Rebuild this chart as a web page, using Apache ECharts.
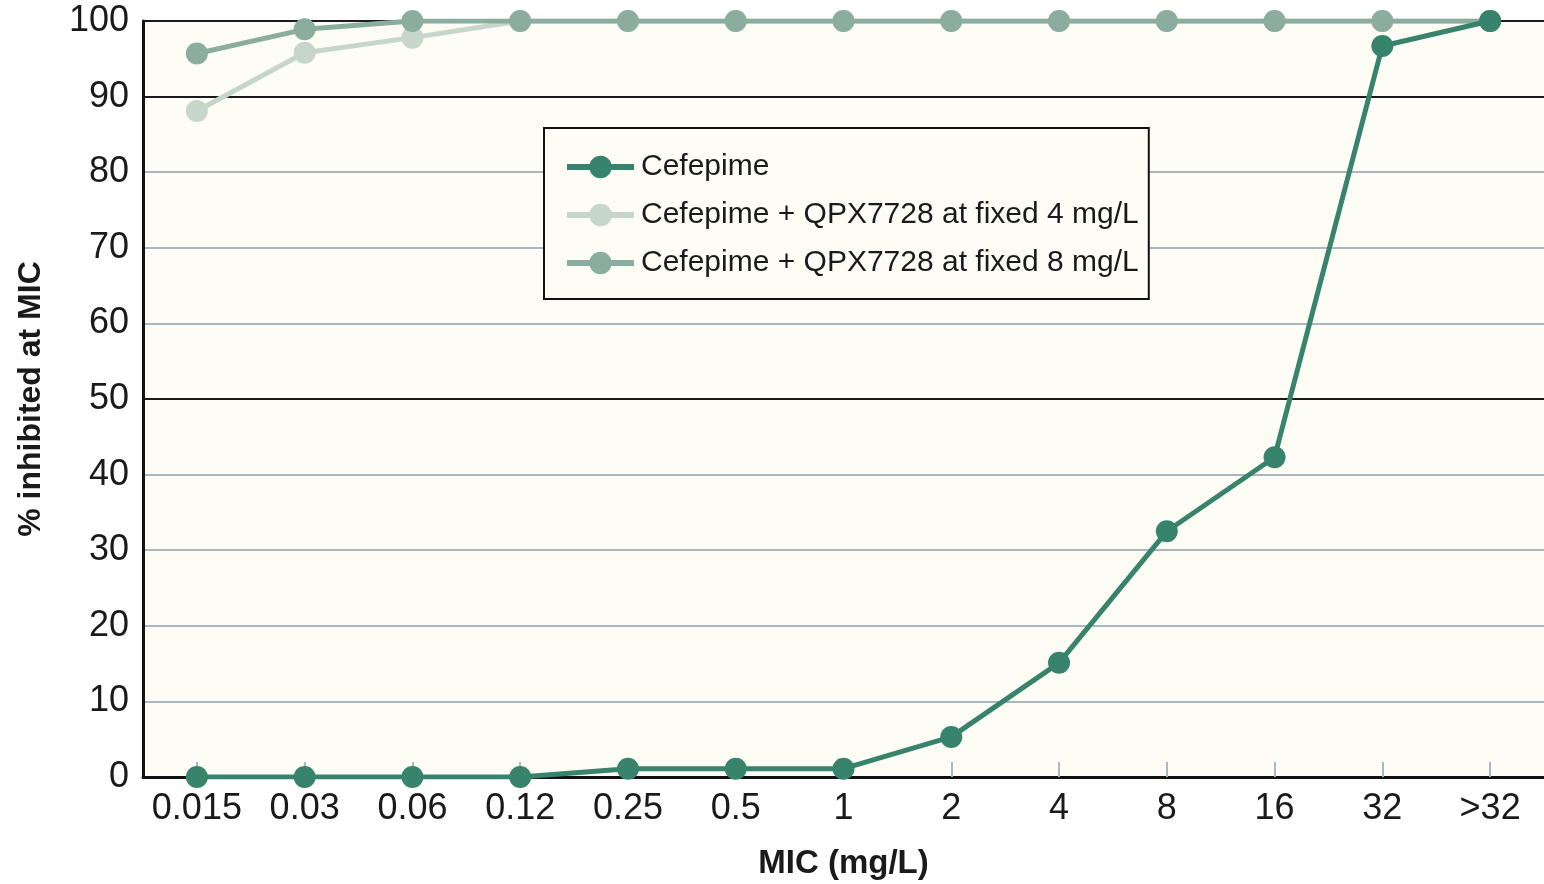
<!DOCTYPE html>
<html>
<head>
<meta charset="utf-8">
<script src="https://cdn.jsdelivr.net/npm/echarts@6/dist/echarts.min.js"></script>
<style>
  html, body { margin: 0; padding: 0; background: #ffffff; }
  #chart { width: 1544px; height: 884px; }
</style>
</head>
<body>
<div id="chart"></div>
<script>
    var FONT = '"Liberation Sans Narrow", "Liberation Sans", Arial, sans-serif';

    // MIC categories (mg/L)
    var micLabels = ['0.015', '0.03', '0.06', '0.12', '0.25', '0.5', '1', '2', '4', '8', '16', '32', '>32'];

    // cumulative % inhibited
    var cefepime = [0, 0, 0, 0, 1.1, 1.1, 1.1, 5.3, 15.1, 32.5, 42.3, 96.7, 100];
    var cefepimeQpx4 = [88.1, 95.8, 97.8, 100, 100, 100, 100, 100, 100, 100, 100, 100, 100];
    var cefepimeQpx8 = [95.7, 98.9, 100, 100, 100, 100, 100, 100, 100, 100, 100, 100, 100];

    var seriesNames = [
        'Cefepime',
        'Cefepime + QPX7728 at fixed 4 mg/L',
        'Cefepime + QPX7728 at fixed 8 mg/L'
    ];
    var seriesColors = ['#37836c', '#c6d6ca', '#8aad9d'];

    // split line colours, one per tick 0..100 (50 and 90 drawn dark)
    var gridColors = ['#222', '#aab6bf', '#aab6bf', '#aab6bf', '#aab6bf', '#1a1a1a',
                      '#aab6bf', '#aab6bf', '#aab6bf', '#1a1a1a', '#1a1a1a'];

    function makeSeries(name, data, color, z) {
        return {
            name: name,
            type: 'line',
            data: data,
            z: z,
            symbol: 'circle',
            symbolSize: 22,
            lineStyle: { color: color, width: 5 },
            itemStyle: { color: color },
            emphasis: { disabled: true },
            animation: false
        };
    }

    var chart = echarts.init(document.getElementById('chart'));
    chart.setOption({
        backgroundColor: '#ffffff',
        textStyle: { fontFamily: FONT },
        grid: {
            left: 143, right: 0, top: 21, bottom: 107,
            outerBoundsMode: 'none',
            containLabel: false,
            show: true,
            backgroundColor: '#fdfdf6',
            borderWidth: 0
        },
        legend: {
            orient: 'vertical',
            left: 544, top: 128,
            padding: [24, 10, 21, 20],
            itemGap: 18,
            itemWidth: 67,
            itemHeight: 28,
            borderColor: '#111',
            borderWidth: 2,
            backgroundColor: '#fdfdf6',
            lineStyle: { width: 6 },
            textStyle: { fontFamily: FONT, fontSize: 30, color: '#1a1a1a', padding: [0, 0, 0, 2] },
            data: seriesNames
        },
        xAxis: {
            type: 'category',
            data: micLabels,
            boundaryGap: true,
            name: 'MIC (mg/L)',
            nameLocation: 'middle',
            nameGap: 70,
            nameTextStyle: { fontFamily: FONT, fontSize: 33, fontWeight: 'bold', color: '#1a1a1a' },
            axisLine: { lineStyle: { color: '#111', width: 3 } },
            axisTick: { show: true, inside: true, alignWithLabel: true, length: 15,
                        lineStyle: { color: '#a9b8c2', width: 2 } },
            axisLabel: { fontFamily: FONT, fontSize: 36, color: '#1a1a1a', margin: 14, interval: 0 },
            splitLine: { show: false }
        },
        yAxis: {
            type: 'value',
            min: 0, max: 100, interval: 10,
            name: '% inhibited at MIC',
            nameLocation: 'middle',
            nameGap: 96,
            nameTextStyle: { fontFamily: FONT, fontSize: 32, fontWeight: 'bold', color: '#1a1a1a' },
            axisLine: { show: true, lineStyle: { color: '#111', width: 3 } },
            axisTick: { show: false },
            axisLabel: { fontFamily: FONT, fontSize: 36, color: '#1a1a1a', margin: 14 },
            splitLine: { show: true, lineStyle: { color: gridColors, width: 2 } }
        },
        series: [
            makeSeries(seriesNames[0], cefepime, seriesColors[0], 4),
            makeSeries(seriesNames[1], cefepimeQpx4, seriesColors[1], 2),
            makeSeries(seriesNames[2], cefepimeQpx8, seriesColors[2], 3)
        ]
    });
</script>
</body>
</html>
